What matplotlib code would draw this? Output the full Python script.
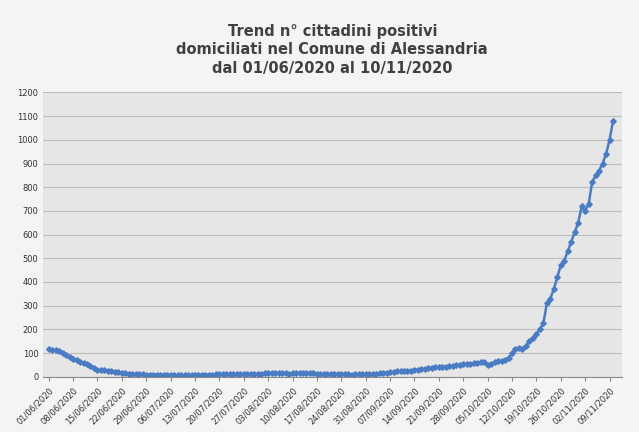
import matplotlib
matplotlib.use("Agg")
import matplotlib.pyplot as plt
import datetime as dt

june = [115,114,112,108,100,92,85,76,70,62,57,52,45,38,30,28,28,26,24,20,18,16,14,12,11,10,10,10,9,9]
july = [9,8,8,8,8,8,7,6,6,6,6,7,7,8,8,9,9,9,10,10,10,10,10,11,11,12,12,13,13,12,12]
aug = [13,14,14,14,15,15,15,14,13,14,15,15,16,16,15,14,13,12,11,11,11,12,12,12,11,10,9,10,11,12,10]
sep = [11,12,13,14,15,17,18,20,22,23,24,25,26,28,30,32,34,36,38,40,41,42,43,44,45,48,50,52,54,55]
octo = [56,58,60,62,50,55,62,65,68,72,80,100,115,120,118,130,150,165,180,200,225,310,330,370,420,470,490,530,570,610,650]
nov = [720,700,730,820,850,870,900,940,1000,1080]
values = june + july + aug + sep + octo + nov
start = dt.date(2020, 6, 1)
dates = [start + dt.timedelta(days=i) for i in range(len(values))]
tick_idx = list(range(0, len(values), 7))
tick_labels = [dates[i].strftime("%d/%m/%Y") for i in tick_idx]

fig = plt.figure(figsize=(6.39, 4.32), dpi=100, facecolor="#f4f4f4")
ax = fig.add_axes([0.068, 0.128, 0.905, 0.658])
ax.set_facecolor("#e6e6e6")
x = list(range(len(values)))
ax.plot(x, values, color="#4a7cc4", lw=1.8, marker="D", ms=2.8)
ax.set_ylim(0, 1200)
ax.set_yticks(range(0, 1201, 100))
ax.set_xlim(-1.5, len(values) + 1.5)
ax.set_xticks(tick_idx)
ax.set_xticklabels(tick_labels, rotation=45, ha="right", fontsize=6, color="#333333", rotation_mode="anchor")
ax.tick_params(axis="y", labelsize=6, colors="#333333", length=0)
ax.tick_params(axis="x", length=3, color="#888888")
ax.grid(axis="y", color="#bdbdbd", lw=0.8)
ax.set_axisbelow(True)
for s in ["top", "right", "left"]:
    ax.spines[s].set_visible(False)
ax.spines["bottom"].set_color("#888888")
fig.text(0.52, 0.885, "Trend n° cittadini positivi\ndomiciliati nel Comune di Alessandria\ndal 01/06/2020 al 10/11/2020",
         ha="center", va="center", fontsize=10.5, fontweight="bold", color="#404040", linespacing=1.3)
fig.savefig("out.png", dpi=100, facecolor=fig.get_facecolor())
